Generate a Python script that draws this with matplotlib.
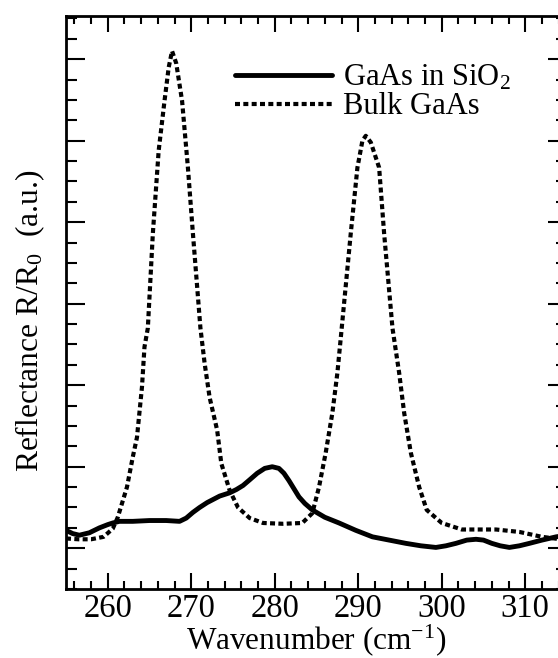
import matplotlib
matplotlib.use("Agg")
import matplotlib.pyplot as plt
from matplotlib.ticker import MultipleLocator, NullFormatter

plt.rcParams['font.family'] = ['Liberation Serif', 'DejaVu Serif']
plt.rcParams['mathtext.fontset'] = 'custom'
plt.rcParams['mathtext.rm'] = 'Liberation Serif'
plt.rcParams['mathtext.it'] = 'Liberation Serif:italic'

# Bulk GaAs (dotted)
bulk_x = [255.0, 256.5, 258.0, 259.5, 260.6, 261.2, 262.3, 263.0, 263.5, 264.1,
          264.4, 264.8, 265.4, 266.1, 266.8, 267.3, 267.7, 268.2, 268.9, 269.6,
          270.2, 271.1, 271.6, 272.2, 273.1, 273.6, 274.6, 275.6, 277.0, 278.6,
          281.0, 283.3, 284.5, 285.3, 286.1, 286.9, 287.5, 288.0, 289.1, 289.9,
          290.5, 290.9, 291.5, 292.5, 293.1, 294.1, 294.9, 295.5, 296.3, 297.3,
          298.2, 300.0, 302.4, 306.5, 309.3, 312.0, 315.0]
bulk_y = [0.12, 0.11, 0.11, 0.14, 0.24, 0.38, 0.75, 1.12, 1.36, 1.98,
          2.47, 2.70, 3.86, 4.88, 5.49, 5.90, 6.10, 5.95, 5.49, 4.67,
          3.86, 2.70, 2.27, 1.85, 1.45, 1.04, 0.71, 0.50, 0.37, 0.31,
          0.30, 0.31, 0.43, 0.75, 1.17, 1.66, 2.15, 2.68, 3.86, 4.67,
          5.00, 5.06, 4.98, 4.67, 3.86, 2.70, 2.15, 1.66, 1.17, 0.75,
          0.47, 0.31, 0.23, 0.23, 0.20, 0.14, 0.10]

# GaAs in SiO2 (solid)
sio2_x = [255.0, 255.8, 256.6, 257.8, 259.0, 260.0, 260.6, 261.4, 263.0, 265.0,
          267.0, 268.6, 269.4, 270.2, 271.0, 271.9, 273.4, 274.6, 275.4, 276.2,
          277.0, 277.9, 278.8, 279.7, 280.5, 281.1, 281.7, 282.3, 282.9, 283.6,
          284.5, 286.0, 287.7, 289.7, 291.7, 293.7, 295.7, 297.5, 299.3, 300.5,
          301.7, 303.0, 304.1, 305.0, 306.0, 307.0, 308.1, 309.3, 310.5, 312.0,
          313.7, 315.0]
sio2_y = [0.22, 0.18, 0.16, 0.19, 0.25, 0.29, 0.31, 0.33, 0.33, 0.34,
          0.34, 0.33, 0.37, 0.44, 0.50, 0.56, 0.64, 0.68, 0.72, 0.77,
          0.84, 0.92, 0.98, 1.00, 0.98, 0.92, 0.83, 0.73, 0.63, 0.55,
          0.47, 0.38, 0.31, 0.22, 0.14, 0.10, 0.06, 0.03, 0.01, 0.03,
          0.06, 0.10, 0.11, 0.10, 0.06, 0.03, 0.01, 0.03, 0.06, 0.10,
          0.14, 0.16]

labels = ["GaAs in SiO$_2$", "Bulk GaAs"]
xticks = [260, 270, 280, 290, 300, 310]

fig = plt.figure(figsize=(5.58, 6.58), dpi=100)
ax = fig.add_axes([66/558, 1-589/658, (567-66)/558, (589-16)/658])

ax.plot(sio2_x, sio2_y, color='black', lw=3.5, solid_joinstyle='round',
        solid_capstyle='round', label=labels[0])
ax.plot(bulk_x, bulk_y, color='black', lw=3.0, linestyle=(0, (1.2, 0.8)),
        dash_capstyle='butt', label=labels[1])

ax.set_xlim(255, 315)
ax.set_ylim(-0.5, 6.53)
ax.set_xticks(xticks)
ax.xaxis.set_minor_locator(MultipleLocator(2))
ax.yaxis.set_major_locator(MultipleLocator(1))
ax.yaxis.set_minor_locator(MultipleLocator(0.25))
ax.yaxis.set_major_formatter(NullFormatter())

ax.tick_params(axis='both', which='both', direction='in', top=True, right=True,
               width=1.5, colors='black')
ax.tick_params(axis='x', which='major', length=11.5, labelsize=23.5, pad=3.5)
ax.tick_params(axis='x', which='minor', length=6)
ax.tick_params(axis='y', which='major', length=13.5)
ax.tick_params(axis='y', which='minor', length=8)
for s in ax.spines.values():
    s.set_linewidth(2)

ax.set_xlabel("Wavenumber (cm$^{-1}$)", fontsize=22.5, labelpad=-1.5)
ax.set_ylabel("Reflectance R/R$_0$  (a.u.)", fontsize=22.7)
ax.yaxis.set_label_coords(-0.038, 0.467)

ax.legend(loc='upper left', bbox_to_anchor=(0.337, 0.918), frameon=False,
          fontsize=22, handlelength=3.17, handletextpad=0.36, labelspacing=0.0,
          borderpad=0, borderaxespad=0)

fig.savefig("out.png", dpi=100)
